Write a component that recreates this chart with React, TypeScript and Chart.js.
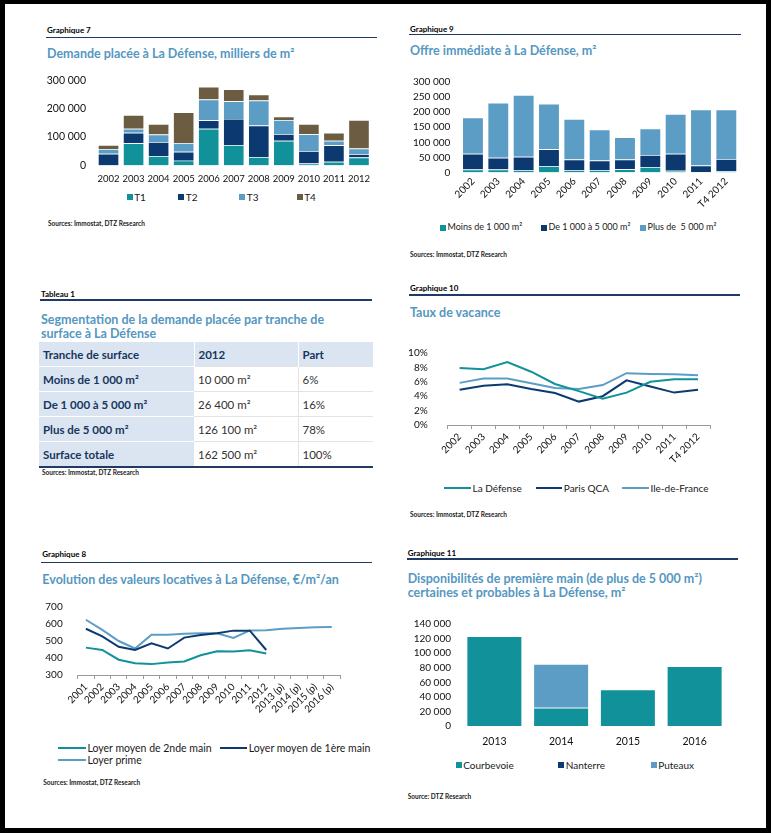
import React, { useEffect, useRef } from 'react';
import { Chart, registerables } from 'chart.js';

Chart.register(...registerables);

const FONT = 'Lato, "Open Sans", sans-serif';
Chart.defaults.font.family = FONT;

const TEAL = '#11929a';
const NAVY = '#0c3a70';
const LIGHT = '#5b9dc5';
const BROWN = '#6c5d42';
const TITLE = '#5597c1';
const RULE = '#1f3b63';
const TABLE_BG = '#dbe5f1';
const TABLE_TXT = '#17365d';

// ---------- Graphique 7 : Demande placée ----------
const demandYears = ['2002', '2003', '2004', '2005', '2006', '2007', '2008', '2009', '2010', '2011', '2012'];
const demandT1 = [0, 78000, 33000, 17000, 129000, 72000, 30000, 87000, 7000, 13000, 28000];
const demandT2 = [41000, 37000, 50000, 31000, 30000, 92000, 111000, 24000, 44000, 58000, 12000];
const demandT3 = [17000, 14000, 26000, 31000, 73000, 62000, 88000, 49000, 59000, 16000, 20000];
const demandT4 = [14000, 49000, 37000, 108000, 45000, 42000, 21000, 12000, 36000, 28000, 100000];
const demandSeries = ['T1', 'T2', 'T3', 'T4'];

// ---------- Graphique 9 : Offre immédiate ----------
const offerYears = ['2002', '2003', '2004', '2005', '2006', '2007', '2008', '2009', '2010', '2011', 'T4 2012'];
const offerSmall = [10000, 10000, 7000, 21000, 7000, 7000, 11000, 18000, 6000, 2000, 5000];
const offerMedium = [52000, 39000, 45000, 56000, 36000, 33000, 32000, 40000, 56000, 21000, 40000];
const offerLarge = [120000, 182000, 205000, 151000, 134000, 102000, 74000, 88000, 132000, 186000, 164000];
const offerSeries = ['Moins de 1 000 m²', 'De 1 000 à 5 000 m²', 'Plus de  5 000 m²'];

// ---------- Tableau 1 ----------
const tableHeader = ['Tranche de surface', '2012', 'Part'];
const tableRanges = ['Moins de 1 000 m²', 'De 1 000 à 5 000 m²', 'Plus de 5 000 m²', 'Surface totale'];
const tableSurfaces = ['10 000 m²', '26 400 m²', '126 100 m²', '162 500 m²'];
const tableShares = ['6%', '16%', '78%', '100%'];

// ---------- Graphique 10 : Taux de vacance ----------
const vacancyYears = ['2002', '2003', '2004', '2005', '2006', '2007', '2008', '2009', '2010', '2011', 'T4 2012'];
const vacancyLaDefense = [7.9, 7.75, 8.75, 7.4, 5.7, 4.7, 3.65, 4.5, 6.0, 6.35, 6.35];
const vacancyParisQCA = [4.9, 5.45, 5.65, 5.0, 4.45, 3.25, 4.0, 6.2, 5.35, 4.5, 4.9];
const vacancyIDF = [5.85, 6.45, 6.45, 5.8, 5.15, 5.0, 5.55, 7.2, 7.1, 7.05, 6.9];
const vacancySeries = ['La Défense', 'Paris QCA', 'Ile-de-France'];

// ---------- Graphique 8 : Valeurs locatives ----------
const rentYears = ['2001', '2002', '2003', '2004', '2005', '2006', '2007', '2008', '2009', '2010', '2011', '2012', '2013 (p)', '2014 (p)', '2015 (p)', '2016 (p)'];
const rentSecondHand = [461, 447, 390, 369, 364, 374, 380, 416, 440, 438, 445, 426, null, null, null, null];
const rentFirstHand = [572, 527, 466, 447, 487, 456, 520, 535, 546, 561, 561, 447, null, null, null, null];
const rentPrime = [625, 565, 500, 456, 537, 537, 542, 546, 546, 518, 562, 563, 572, 577, 581, 582];
const rentSeries = ['Loyer moyen de 2nde main', 'Loyer moyen de 1ère main', 'Loyer prime'];

// ---------- Graphique 11 : Disponibilités ----------
const supplyYears = ['2013', '2014', '2015', '2016'];
const supplyCourbevoie = [123000, 25000, 50000, 82000];
const supplyNanterre = [0, 0, 0, 0];
const supplyPuteaux = [0, 60000, 0, 0];
const supplySeries = ['Courbevoie', 'Nanterre', 'Puteaux'];

const fmt = (v: number | string) => String(Math.round(Number(v))).replace(/\B(?=(\d{3})+(?!\d))/g, ' ');

function ChartCanvas({ left, top, width, height, make }: { left: number; top: number; width: number; height: number; make: () => any }) {
  const ref = useRef<HTMLCanvasElement>(null);
  useEffect(() => {
    const chart = new Chart(ref.current as HTMLCanvasElement, make());
    return () => chart.destroy();
  }, []);
  return (
    <canvas
      ref={ref}
      width={width}
      height={height}
      style={{ position: 'absolute', left, top, width, height }}
    />
  );
}

const noGrid = { display: false, drawTicks: false };
const noBorder = { display: false };

function barOptions(p: { padTop: number; padRight: number; yWidth: number; xHeight: number; yMax: number; yStep: number; yPad: number; xPad: number; rotate: boolean; xSize: number; ySize: number; catPct: number }) {
  return {
    responsive: false,
    animation: false,
    layout: { padding: { top: p.padTop, right: p.padRight, left: 0, bottom: 0 } },
    plugins: { legend: { display: false }, tooltip: { enabled: false } },
    datasets: { bar: { categoryPercentage: p.catPct, barPercentage: 1 } },
    scales: {
      x: {
        stacked: true,
        grid: noGrid,
        border: noBorder,
        ticks: {
          autoSkip: false,
          padding: p.xPad,
          color: '#111',
          font: { size: p.xSize, family: FONT },
          minRotation: p.rotate ? 45 : 0,
          maxRotation: p.rotate ? 45 : 0,
        },
        afterFit: (s: any) => { s.height = p.xHeight; },
      },
      y: {
        stacked: true,
        min: 0,
        max: p.yMax,
        grid: noGrid,
        border: noBorder,
        ticks: {
          autoSkip: false,
          stepSize: p.yStep,
          padding: p.yPad,
          color: '#111',
          font: { size: p.ySize, family: FONT },
          callback: (v: any) => fmt(v),
        },
        afterFit: (s: any) => { s.width = p.yWidth; },
      },
    },
  };
}

function lineOptions(p: { padTop: number; padRight: number; yWidth: number; xHeight: number; yMin: number; yMax: number; yStep: number; yPad: number; yFmt: (v: any) => string }) {
  return {
    responsive: false,
    animation: false,
    layout: { padding: { top: p.padTop, right: p.padRight, left: 0, bottom: 0 } },
    plugins: { legend: { display: false }, tooltip: { enabled: false } },
    elements: { point: { radius: 0 }, line: { borderWidth: 2, tension: 0 } },
    scales: {
      x: {
        offset: true,
        grid: { display: true, offset: true, drawOnChartArea: false, drawTicks: true, tickLength: 4, color: '#9a9a9a' },
        border: { display: true, color: '#9a9a9a', width: 1 },
        ticks: {
          autoSkip: false,
          padding: 2,
          color: '#111',
          font: { size: 10, family: FONT },
          minRotation: 45,
          maxRotation: 45,
        },
        afterFit: (s: any) => { s.height = p.xHeight; },
      },
      y: {
        min: p.yMin,
        max: p.yMax,
        grid: noGrid,
        border: noBorder,
        ticks: {
          autoSkip: false,
          stepSize: p.yStep,
          padding: p.yPad,
          color: '#111',
          font: { size: 10, family: FONT },
          callback: p.yFmt,
        },
        afterFit: (s: any) => { s.width = p.yWidth; },
      },
    },
  };
}

const seg = { borderColor: '#ffffff', borderWidth: 0.7 };

const makeDemand = () => ({
  type: 'bar',
  data: {
    labels: demandYears,
    datasets: [
      { label: demandSeries[0], data: demandT1, backgroundColor: TEAL, ...seg },
      { label: demandSeries[1], data: demandT2, backgroundColor: NAVY, ...seg },
      { label: demandSeries[2], data: demandT3, backgroundColor: LIGHT, ...seg },
      { label: demandSeries[3], data: demandT4, backgroundColor: BROWN, ...seg },
    ],
  },
  options: barOptions({ padTop: 11.5, padRight: 8.5, yWidth: 56, xHeight: 24.5, yMax: 300000, yStep: 100000, yPad: 10, xPad: 8, rotate: false, xSize: 9.5, ySize: 10.5, catPct: 0.84 }),
});

const makeOffer = () => ({
  type: 'bar',
  data: {
    labels: offerYears,
    datasets: [
      { label: offerSeries[0], data: offerSmall, backgroundColor: TEAL, ...seg },
      { label: offerSeries[1], data: offerMedium, backgroundColor: NAVY, ...seg },
      { label: offerSeries[2], data: offerLarge, backgroundColor: LIGHT, ...seg },
    ],
  },
  options: barOptions({ padTop: 11, padRight: 11, yWidth: 60.3, xHeight: 47.5, yMax: 300000, yStep: 50000, yPad: 10, xPad: 3, rotate: true, xSize: 10, ySize: 10, catPct: 0.84 }),
});

const makeVacancy = () => ({
  type: 'line',
  data: {
    labels: vacancyYears,
    datasets: [
      { label: vacancySeries[0], data: vacancyLaDefense, borderColor: TEAL, backgroundColor: TEAL },
      { label: vacancySeries[1], data: vacancyParisQCA, borderColor: NAVY, backgroundColor: NAVY },
      { label: vacancySeries[2], data: vacancyIDF, borderColor: LIGHT, backgroundColor: LIGHT },
    ],
  },
  options: lineOptions({ padTop: 10.5, padRight: 15, yWidth: 52.7, xHeight: 52, yMin: 0, yMax: 10, yStep: 2, yPad: 20, yFmt: (v: any) => `${v}%` }),
});

const makeRent = () => ({
  type: 'line',
  data: {
    labels: rentYears,
    datasets: [
      { label: rentSeries[0], data: rentSecondHand, borderColor: TEAL, backgroundColor: TEAL },
      { label: rentSeries[1], data: rentFirstHand, borderColor: NAVY, backgroundColor: NAVY },
      { label: rentSeries[2], data: rentPrime, borderColor: LIGHT, backgroundColor: LIGHT },
    ],
  },
  options: lineOptions({ padTop: 10.5, padRight: 10, yWidth: 47.7, xHeight: 56, yMin: 300, yMax: 700, yStep: 100, yPad: 15, yFmt: (v: any) => String(v) }),
});

const makeSupply = () => ({
  type: 'bar',
  data: {
    labels: supplyYears,
    datasets: [
      { label: supplySeries[0], data: supplyCourbevoie, backgroundColor: TEAL, ...seg },
      { label: supplySeries[1], data: supplyNanterre, backgroundColor: NAVY, ...seg },
      { label: supplySeries[2], data: supplyPuteaux, backgroundColor: LIGHT, ...seg },
    ],
  },
  options: barOptions({ padTop: 10.7, padRight: 10, yWidth: 61, xHeight: 27, yMax: 140000, yStep: 20000, yPad: 10, xPad: 9, rotate: false, xSize: 10.5, ySize: 10, catPct: 0.83 }),
});

function T({ x, y, size, bold, color = '#000', children }: { x: number; y: number; size: number; bold?: boolean; color?: string; children: React.ReactNode }) {
  return (
    <div
      style={{
        position: 'absolute',
        left: x,
        top: y - size * 0.6,
        fontSize: size,
        lineHeight: `${size * 1.2}px`,
        fontWeight: bold ? 700 : 400,
        color,
        whiteSpace: 'pre',
        fontFamily: FONT,
      }}
    >
      {children}
    </div>
  );
}

function Rule({ x1, x2, y }: { x1: number; x2: number; y: number }) {
  return <div style={{ position: 'absolute', left: x1, top: y - 0.75, width: x2 - x1, height: 1.5, background: RULE }} />;
}

function SquareKey({ x, y, color, label, size = 10 }: { x: number; y: number; color: string; label: string; size?: number }) {
  return (
    <>
      <div style={{ position: 'absolute', left: x, top: y - 3, width: 6, height: 6, background: color }} />
      <T x={x + 7.5} y={y} size={size} color="#1a1a1a">{label}</T>
    </>
  );
}

function LineKey({ x1, x2, y, color, label, size = 10 }: { x1: number; x2: number; y: number; color: string; label: string; size?: number }) {
  return (
    <>
      <div style={{ position: 'absolute', left: x1, top: y - 1, width: x2 - x1, height: 2, background: color }} />
      <T x={x2 + 1.5} y={y} size={size} color="#1a1a1a">{label}</T>
    </>
  );
}

function Header({ x, x2, labelY, ruleY, label }: { x: number; x2: number; labelY: number; ruleY: number; label: string }) {
  return (
    <>
      <T x={x} y={labelY} size={8} bold>{label}</T>
      <Rule x1={x - 1} x2={x2} y={ruleY} />
    </>
  );
}

function Title({ x, y, text }: { x: number; y: number; text: string }) {
  return <T x={x} y={y} size={12.5} bold color={TITLE}>{text}</T>;
}

function Source({ x, y, text }: { x: number; y: number; text: string }) {
  return <T x={x} y={y} size={6.5} bold color="#222">{text}</T>;
}

function DataTable() {
  const headCell = (i: number): React.CSSProperties => ({
    background: TABLE_BG,
    color: TABLE_TXT,
    fontWeight: 700,
    textAlign: 'left',
    padding: '0 0 0 4px',
    borderRight: i < 2 ? '1px solid #ffffff' : 'none',
    height: 24,
  });
  const firstCell: React.CSSProperties = {
    background: TABLE_BG,
    color: TABLE_TXT,
    fontWeight: 700,
    padding: '0 0 0 4px',
    borderTop: '1px solid #ffffff',
    height: 24,
  };
  const dataCell = (last: boolean): React.CSSProperties => ({
    color: '#333',
    padding: '0 0 0 4px',
    borderTop: '1px solid #e3e3e3',
    borderLeft: last ? '1px solid #e3e3e3' : 'none',
    height: 24,
  });
  return (
    <table
      style={{
        position: 'absolute',
        left: 39,
        top: 342,
        width: 334,
        borderCollapse: 'collapse',
        fontFamily: FONT,
        fontSize: 11.5,
        borderBottom: `2px solid ${RULE}`,
        tableLayout: 'fixed',
      }}
    >
      <colgroup>
        <col style={{ width: 155 }} />
        <col style={{ width: 104 }} />
        <col style={{ width: 75 }} />
      </colgroup>
      <thead>
        <tr>
          {tableHeader.map((h, i) => (
            <th key={h} style={headCell(i)}>{h}</th>
          ))}
        </tr>
      </thead>
      <tbody>
        {tableRanges.map((r, i) => (
          <tr key={r}>
            <td style={firstCell}>{r}</td>
            <td style={dataCell(false)}>{tableSurfaces[i]}</td>
            <td style={dataCell(true)}>{tableShares[i]}</td>
          </tr>
        ))}
      </tbody>
    </table>
  );
}

export default function App() {
  return (
    <div style={{ position: 'absolute', left: 0, top: 0, width: 771, height: 833, background: '#000', overflow: 'hidden', fontFamily: FONT }}>
      <div style={{ position: 'absolute', left: 5, top: 4, width: 761, height: 824, background: '#fff' }} />

      {/* Graphique 7 */}
      <Header x={47} x2={377} labelY={30.7} ruleY={37.3} label="Graphique 7" />
      <Title x={47} y={53.3} text="Demande placée à La Défense, milliers de m²" />
      <ChartCanvas left={40} top={64} width={340} height={126} make={makeDemand} />
      <SquareKey x={126.7} y={196.7} color={TEAL} label={demandSeries[0]} />
      <SquareKey x={178.3} y={196.7} color={NAVY} label={demandSeries[1]} />
      <SquareKey x={239.3} y={196.7} color={LIGHT} label={demandSeries[2]} />
      <SquareKey x={296.7} y={196.7} color={BROWN} label={demandSeries[3]} />
      <Source x={48} y={224} text="Sources: Immostat, DTZ Research" />

      {/* Graphique 9 */}
      <Header x={410} x2={741} labelY={29.3} ruleY={34.3} label="Graphique 9" />
      <Title x={410} y={50} text="Offre immédiate à La Défense, m²" />
      <ChartCanvas left={400} top={66} width={350} height={154} make={makeOffer} />
      <SquareKey x={440} y={227.7} color={TEAL} label={offerSeries[0]} size={9} />
      <SquareKey x={541} y={227.7} color={NAVY} label={offerSeries[1]} size={9} />
      <SquareKey x={640} y={227.7} color={LIGHT} label={offerSeries[2]} size={9} />
      <Source x={410} y={255} text="Sources: Immostat, DTZ Research" />

      {/* Tableau 1 */}
      <Header x={41} x2={372} labelY={295} ruleY={300} label="Tableau 1" />
      <Title x={41} y={319} text="Segmentation de la demande placée par tranche de" />
      <Title x={41} y={333.3} text="surface à La Défense" />
      <DataTable />
      <Source x={42} y={473.3} text="Sources: Immostat, DTZ Research" />

      {/* Graphique 10 */}
      <Header x={410} x2={740} labelY={288.3} ruleY={295} label="Graphique 10" />
      <Title x={410} y={312.3} text="Taux de vacance" />
      <ChartCanvas left={395} top={327} width={330} height={150} make={makeVacancy} />
      <LineKey x1={444.3} x2={471} y={487.7} color={TEAL} label={vacancySeries[0]} />
      <LineKey x1={535.7} x2={562.3} y={487.7} color={NAVY} label={vacancySeries[1]} />
      <LineKey x1={622.3} x2={649} y={487.7} color={LIGHT} label={vacancySeries[2]} />
      <Source x={410} y={515.3} text="Sources: Immostat, DTZ Research" />

      {/* Graphique 8 */}
      <Header x={42.3} x2={372.3} labelY={555} ruleY={562.3} label="Graphique 8" />
      <Title x={42.3} y={579} text="Evolution des valeurs locatives à La Défense, €/m²/an" />
      <ChartCanvas left={30} top={586} width={320} height={145} make={makeRent} />
      <LineKey x1={58.3} x2={86} y={748.3} color={TEAL} label={rentSeries[0]} size={10.5} />
      <LineKey x1={220} x2={247.3} y={748.3} color={NAVY} label={rentSeries[1]} size={10.5} />
      <LineKey x1={58.3} x2={86} y={760} color={LIGHT} label={rentSeries[2]} size={10.5} />
      <Source x={43.3} y={782.7} text="Sources: Immostat, DTZ Research" />

      {/* Graphique 11 */}
      <Header x={407.7} x2={737.7} labelY={554} ruleY={559} label="Graphique 11" />
      <Title x={407.7} y={578.3} text="Disponibilités de première main (de plus de 5 000 m²)" />
      <Title x={407.7} y={592.7} text="certaines et probables à La Défense, m²" />
      <ChartCanvas left={400} top={608} width={338} height={145} make={makeSupply} />
      <SquareKey x={455.7} y={765} color={TEAL} label={supplySeries[0]} />
      <SquareKey x={558.3} y={765} color={NAVY} label={supplySeries[1]} />
      <SquareKey x={650.7} y={765} color={LIGHT} label={supplySeries[2]} />
      <Source x={407.7} y={796.7} text="Source: DTZ Research" />
    </div>
  );
}
